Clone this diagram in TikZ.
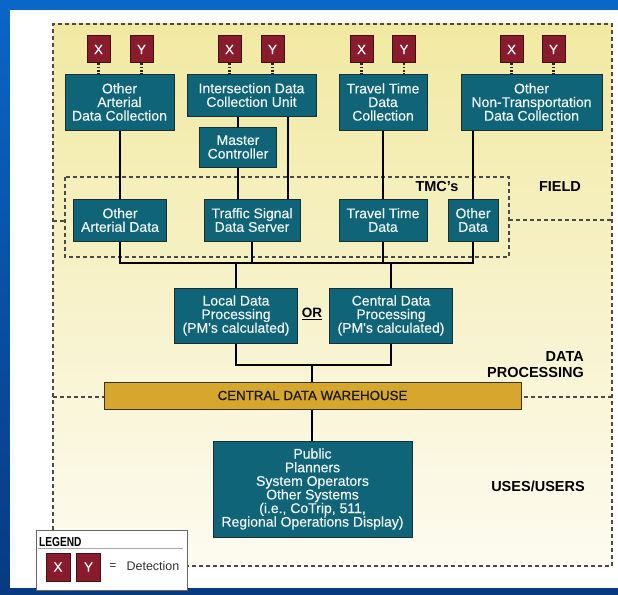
\documentclass[tikz,border=0pt]{standalone}
\usepackage{fontspec}
\usepackage{graphicx}
\setmainfont{Liberation Sans}
\newfontfamily\heavyish[FakeBold=0.35]{Liberation Sans}
\newfontfamily\medium[FakeBold=0.7]{Liberation Sans}

\definecolor{slidetop}{HTML}{0A66C8}
\definecolor{slidebot}{HTML}{083A82}
\definecolor{paneltop}{HTML}{F1E9A2}
\definecolor{panelbot}{HTML}{FDFBF1}
\definecolor{tealfill}{HTML}{0F6577}
\definecolor{tealedge}{HTML}{1B2F33}
\definecolor{detfill}{HTML}{8A1B2C}
\definecolor{detedge}{HTML}{3A1218}
\definecolor{goldfill}{HTML}{D6A72C}
\definecolor{goldedge}{HTML}{3E3210}
\definecolor{zonegray}{HTML}{4A4A4A}
\definecolor{boxtext}{HTML}{F2F6F6}

\newcommand\bxfont{\heavyish\fontsize{14}{13.6}\selectfont}
\newcommand\lblfont{\fontsize{14.5}{15.5}\selectfont\bfseries}

\tikzset{
  tealbox/.style={draw=tealedge, fill=tealfill, line width=1pt, text=boxtext,
    align=center, font=\bxfont, inner sep=1pt},
  detbox/.style={draw=detedge, fill=detfill, line width=1pt, text=white,
    font=\heavyish\fontsize{13.5}{14}\selectfont, minimum width=23pt, minimum height=27pt, inner sep=0pt},
  wire/.style={line width=1.7pt, black},
  probe/.style={line width=2.2pt, dash pattern=on 1.6pt off 1.6pt, black!85},
  zone/.style={line width=1.2pt, dash pattern=on 4pt off 3pt, zonegray},
  zonelabel/.style={font=\lblfont, text=black, inner sep=0pt},
}

\begin{document}
\begin{tikzpicture}[x=1pt, y=-1pt]
\useasboundingbox (0,0) rectangle (618,594);

% slide background and white page
\shade[top color=slidetop, bottom color=slidebot] (0,0) rectangle (618,594);
\fill[white] (10,10) rectangle (618,588);

% shaded architecture panel
\shade[top color=paneltop, bottom color=panelbot] (53,24) rectangle (612,566);

% TMC group
\fill[paneltop!70!white, opacity=0.5] (65,177) rectangle (509,257);
\draw[zone] (65,177) rectangle (509,257);
\node[zonelabel] (tmc) at (437,187) {TMC’s};

% zone boundaries
\draw[zone] (53,530) -- (53,24) -- (612,24) -- (612,566) -- (187,566);
\draw[zone] (53,221) -- (65,221);
\draw[zone] (509,220) -- (612,220);

% zone labels
\node[zonelabel] (field) at (560,187) {FIELD};
\node[zonelabel, align=right, anchor=east] (dproc) at (584,364.5) {DATA\\PROCESSING};
\node[zonelabel] (uses) at (538,486) {USES/USERS};

% data collection row
\node[tealbox, minimum width=109pt, minimum height=56pt] (oadc) at (119.5,102) {Other\\Arterial\\Data Collection};
\node[tealbox, minimum width=129pt, minimum height=42pt] (idcu) at (251.5,95) {Intersection Data\\Collection Unit};
\node[tealbox, minimum width=88pt, minimum height=56pt] (ttdc) at (383,102) {Travel Time\\Data\\Collection};
\node[tealbox, minimum width=141pt, minimum height=56pt] (ontdc) at (531.5,102) {Other\\Non-Transportation\\Data Collection};
\node[tealbox, minimum width=77pt, minimum height=40pt] (mc) at (238,147) {Master\\Controller};

% detectors
\node[detbox] (x1) at (98.5,49.5) {X};
\node[detbox] (y1) at (141.5,49.5) {Y};
\node[detbox] (x2) at (229.5,49.5) {X};
\node[detbox] (y2) at (272.5,49.5) {Y};
\node[detbox] (x3) at (361.5,49.5) {X};
\node[detbox] (y3) at (404,49.5) {Y};
\node[detbox] (x4) at (511.5,49.5) {X};
\node[detbox] (y4) at (553.5,49.5) {Y};

\draw[probe] (x1.south) -- (oadc.north -| x1);
\draw[probe] (y1.south) -- (oadc.north -| y1);
\draw[probe] (x2.south) -- (idcu.north -| x2);
\draw[probe] (y2.south) -- (idcu.north -| y2);
\draw[probe] (x3.south) -- (ttdc.north -| x3);
\draw[probe] (y3.south) -- (ttdc.north -| y3);
\draw[probe] (x4.south) -- (ontdc.north -| x4);
\draw[probe] (y4.south) -- (ontdc.north -| y4);

% TMC row
\node[tealbox, minimum width=93pt, minimum height=42pt] (oad) at (120,220) {Other\\Arterial Data};
\node[tealbox, minimum width=96pt, minimum height=42pt] (tsds) at (252,220) {Traffic Signal\\Data Server};
\node[tealbox, minimum width=88pt, minimum height=42pt] (ttd) at (383,220) {Travel Time\\Data};
\node[tealbox, minimum width=50pt, minimum height=42pt] (od) at (473,220) {Other\\Data};

\coordinate (sig) at (288,0);
\draw[wire] (oadc.south -| oad) -- (oad.north);
\draw[wire] (idcu.south -| mc) -- (mc.north);
\draw[wire] (mc.south) -- (tsds.north -| mc);
\draw[wire] (idcu.south -| sig) -- (tsds.north -| sig);
\draw[wire] (ttdc.south) -- (ttd.north);
\draw[wire] (ontdc.south -| od) -- (od.north);

% processing
\node[tealbox, minimum width=123pt, minimum height=55pt] (local) at (236,315.5) {Local Data\\Processing\\(PM's calculated)};
\node[tealbox, minimum width=123pt, minimum height=55pt] (central) at (391,315.5) {Central Data\\Processing\\(PM's calculated)};
\node[zonelabel, font=\fontsize{13.5}{14}\selectfont\bfseries] (or) at (312,314) {\underline{OR}};

\coordinate (bus) at (0,263);
\draw[wire] (oad.south) -- (oad.south |- bus) -- (od.south |- bus) -- (od.south);
\draw[wire] (tsds.south) -- (tsds.south |- bus);
\draw[wire] (ttd.south) -- (ttd.south |- bus);
\draw[wire] (local.north |- bus) -- (local.north);
\draw[wire] (central.north |- bus) -- (central.north);

% warehouse
\node[draw=goldedge, fill=goldfill, line width=1pt, minimum width=417pt, minimum height=27pt,
  font=\medium\fontsize{13.3}{14}\selectfont, text=black!90] (wh) at (312.5,395.5) {CENTRAL DATA WAREHOUSE};
\coordinate (join) at (312,365);
\draw[wire] (local.south) |- (join) -| (central.south);
\draw[wire] (join) -- (wh.north -| join);
\draw[zone] (53,397) -- (wh.west |- 0,397);
\draw[zone] (612,397) -- (wh.east |- 0,397);

% users
\node[tealbox, minimum width=199pt, minimum height=96pt] (users) at (312.5,489)
  {Public\\Planners\\System Operators\\Other Systems\\(i.e., CoTrip, 511,\\Regional Operations Display)};
\draw[wire] (wh.south -| join) -- (users.north -| join);

% legend
\node[draw=black!60, fill=white, line width=1pt, minimum width=151pt, minimum height=60pt,
  anchor=north west, inner sep=0pt] (legend) at (36,530) {};
\node[anchor=west, inner sep=0pt, font=\fontsize{13}{13}\selectfont\bfseries] (legtitle) at (39,542) {\scalebox{0.78}[1]{LEGEND}};
\draw[black!35, line width=1pt] (38,548) -- (183,548);
\node[detbox, minimum width=24pt, minimum height=28pt] (lx) at (58,567) {X};
\node[detbox, minimum width=24pt, minimum height=28pt] (ly) at (88.5,567) {Y};
\node[inner sep=0pt, font=\fontsize{12}{13}\selectfont, text=black!80] (leq) at (113,567) {=};
\node[inner sep=0pt, font=\fontsize{12.5}{13}\selectfont, text=black!80] (ldet) at (153,566) {Detection};
\end{tikzpicture}
\end{document}
